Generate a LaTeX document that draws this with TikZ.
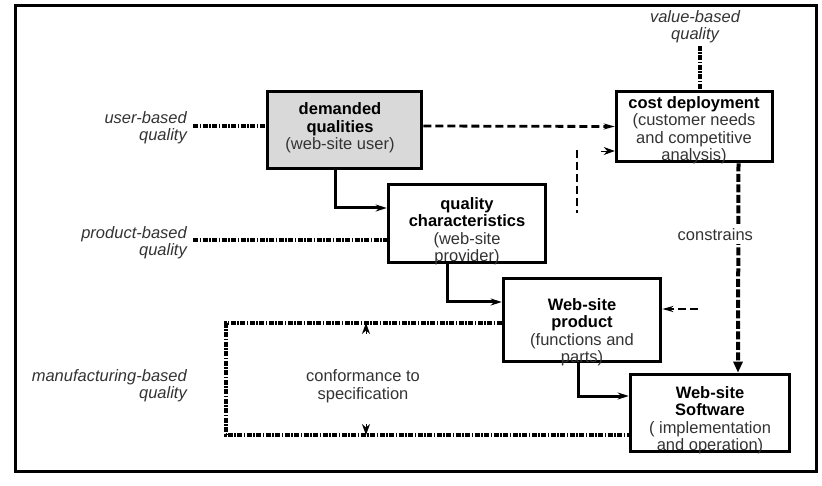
\documentclass[tikz,border=0pt]{standalone}
\usepackage{fontspec}
\setmainfont{Liberation Sans}
\usetikzlibrary{arrows.meta}

\begin{document}
\begin{tikzpicture}[x=1pt,y=-1pt,
			box node/.style={rectangle,draw,line width=3.6pt,inner sep=0pt},
			text node/.style={align=center,inner sep=0pt,font=\fontsize{16.5}{17.5}\selectfont},
			side node/.style={align=right,inner sep=0pt,text=black!80,font=\fontsize{16.5}{17}\selectfont\itshape},
			solid link/.style={line width=3pt,-{Stealth[length=11pt,width=7pt]}},
			dash link/.style={line width=2.8pt,dash pattern=on 8pt off 4pt},
			dot link/.style={line width=3.2pt,dash pattern=on 5pt off 1.5pt on 1.5pt off 1.5pt},
			tip/.style={line width=0.8pt,-{Stealth[length=11pt,width=8pt]}}
			]
			
			\def \gr {black!80};
			
			\useasboundingbox (0,0) rectangle (822,486);
			\draw[line width=3pt] (15,6) rectangle (816,471);
			
			% boxes
			\node[box node,fill=black!15,minimum width=154pt,minimum height=77pt] at (344.5,130) (dq) {};
			\node[box node,minimum width=156pt,minimum height=70pt] at (694.5,126.5) (cost) {};
			\node[box node,minimum width=157pt,minimum height=78pt] at (467,223.5) (qc) {};
			\node[box node,minimum width=157pt,minimum height=83pt] at (582,320) (prod) {};
			\node[box node,minimum width=159pt,minimum height=77pt] at (710,413) (soft) {};
			
			\node[text node] at (340,128) (dqt) {\textbf{demanded}\\\textbf{qualities}\\\textcolor{\gr}{(web-site user)}};
			\node[text node] at (694,130) (costt) {\textbf{cost deployment}\\\textcolor{\gr}{(customer needs}\\\textcolor{\gr}{and competitive}\\\textcolor{\gr}{analysis)}};
			\node[text node] at (467,231) (qct) {\textbf{quality}\\\textbf{characteristics}\\\textcolor{\gr}{(web-site}\\\textcolor{\gr}{provider)}};
			\node[text node] at (582,332) (prodt) {\textbf{Web-site}\\\textbf{product}\\\textcolor{\gr}{(functions and}\\\textcolor{\gr}{parts)}};
			\node[text node] at (710,420) (softt) {\textbf{Web-site}\\\textbf{Software}\\\textcolor{\gr}{( implementation}\\\textcolor{\gr}{and operation)}};
			
			% kinds of quality
			\node[side node,anchor=east] at (187,128) (ub) {user-based\\quality};
			\node[side node,anchor=east] at (187,242.5) (pb) {product-based\\quality};
			\node[side node,anchor=east] at (187,386) (mb) {manufacturing-based\\quality};
			\node[side node,align=center] at (695,27) (vb) {value-based\\quality};
			\node[text node,text=\gr] at (363,386) (conf) {conformance to\\specification};
			
			\draw[dot link] ([xshift=6pt,yshift=2pt]ub.east) -- ([yshift=4pt]dq.west);
			\draw[dot link] ([xshift=6pt,yshift=2.5pt]pb.east) -- ([yshift=-16.5pt]qc.west);
			\coordinate (vq) at (700,46);
			\draw[dot link] (vq) -- (vq |- cost.north);
			
			\draw[dash link,-{Stealth[length=11pt,width=6pt]}] ([yshift=4pt]dq.east) -- (cost.west);
			\coordinate (f1) at (577,150);
			\coordinate (f2) at (577,213);
			\draw[dash link] (f1) -- (f2);
			\coordinate (f3) at (601,151);
			\draw[tip] (f3) -- (f3 -| cost.west);
			
			\draw[line width=4pt,dash pattern=on 8pt off 2.5pt,-{Triangle[length=11pt,width=9pt]}] ([xshift=44pt]cost.south) -- node[pos=0.34,xshift=-23pt,fill=white,text node,text=\gr,inner sep=3pt] (con) {constrains} ([xshift=28pt]soft.north);
			
			\draw[solid link] ([xshift=-9.5pt]dq.south) |- ([yshift=15.5pt]qc.west);
			\draw[solid link] ([xshift=-20pt]qc.south) |- ([yshift=18pt]prod.west);
			\draw[solid link] ([xshift=-4pt]prod.south) |- ([yshift=17pt]soft.west);
			
			\coordinate (pr) at (698,309);
			\draw[dash link,-{Stealth[length=11pt,width=6pt]}] (pr) -- (pr -| prod.east);
			
			% conformance loop
			\coordinate (c1) at (226,323);
			\coordinate (c2) at (226,435);
			\draw[dot link] ([yshift=-3pt]prod.west) -- (c1) -- (c2) -- (c2 -| soft.west);
			\coordinate (a1) at (366,334);
			\coordinate (a2) at (366,424);
			\draw[tip] (a1) -- (a1 |- c1);
			\draw[tip] (a2) -- (a2 |- c2);
			\end{tikzpicture}
\end{document}
